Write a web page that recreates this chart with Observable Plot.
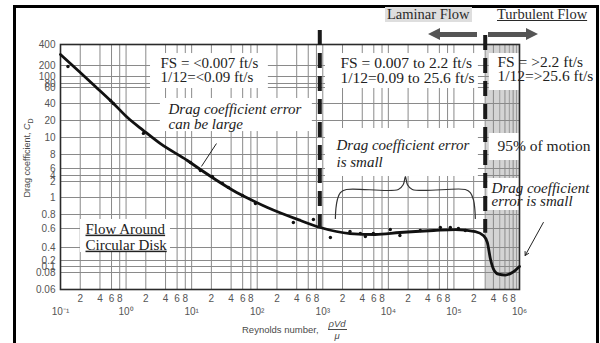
<!DOCTYPE html>
<html>
<head>
<meta charset="utf-8">
<script src="https://cdn.jsdelivr.net/npm/d3@7"></script>
<script src="https://cdn.jsdelivr.net/npm/@observablehq/plot@0.6"></script>
<style>
  body { margin: 0; background: #fff; }
  #wrap { position: relative; width: 600px; height: 343px; overflow: hidden; background: #fff; }
  #chart svg { position: absolute; left: 0; top: 0; }
  .ov { position: absolute; white-space: nowrap; }
  .serif { font-family: "Liberation Serif", "Times New Roman", serif; color: #2a2a2a; }
  .sans { font-family: "Liberation Sans", Arial, sans-serif; color: #4a4a4a; }
</style>
</head>
<body>
<div id="wrap">
  <div id="chart"></div>
  <div class="ov" style="left:13px;top:5px;width:586px;height:360px;box-sizing:border-box;border-top:3px solid #000;border-left:3px solid #000;border-right:3px solid #000;"></div>
  <div class="ov serif" style="left:385px;top:7px;font-size:14.5px;line-height:15px;background:#dedede;padding:0 2px;">Laminar Flow</div>
  <div class="ov serif" style="left:497px;top:7px;font-size:14.5px;line-height:15px;text-decoration:underline;">Turbulent Flow</div>
  <!-- header arrows -->
  <div class="ov" style="left:438px;top:32px;width:39px;height:5px;background:#555;"></div>
  <div class="ov" style="left:428px;top:28px;width:0;height:0;border-top:6.5px solid transparent;border-bottom:6.5px solid transparent;border-right:12px solid #555;"></div>
  <div class="ov" style="left:488px;top:32px;width:39px;height:5px;background:#555;"></div>
  <div class="ov" style="left:526px;top:28px;width:0;height:0;border-top:6.5px solid transparent;border-bottom:6.5px solid transparent;border-left:12px solid #555;"></div>
  <!-- axis titles -->
  <div class="ov sans" style="left:28px;top:158px;font-size:9px;transform:translate(-50%,-50%) rotate(-90deg);">Drag coefficient, <i>C</i><sub style="font-size:7px">D</sub></div>
  <div class="ov sans" style="left:242px;top:318px;font-size:9.5px;display:flex;align-items:center;">Reynolds number,<span style="display:inline-flex;flex-direction:column;align-items:center;margin-left:9px;font-style:italic;line-height:11px;"><span style="border-bottom:1px solid #4a4a4a;padding:0 1px;">ρVd</span><span>μ</span></span></div>
</div>
<script>
// ---- data ----
const reynolds = [0.1, 0.2, 0.34, 0.62, 1.05, 1.84, 3.3, 8.6, 13.6, 23, 43, 79, 143, 457, 916, 2600, 6300, 15000, 49000, 105000, 212000, 281000, 323000, 359000, 398000, 475000, 608000, 777000, 1000000];
const dragCoef = [305, 136, 65, 41.3, 23.5, 14.1, 9.3, 7.14, 5.71, 2.67, 1.44, 0.976, 0.882, 0.714, 0.614, 0.547, 0.537, 0.558, 0.579, 0.589, 0.568, 0.526, 0.453, 0.231, 0.093, 0.078, 0.077, 0.08, 0.1];
const sampleRe = [0.13, 0.58, 0.64, 1.84, 9.6, 13.6, 20.7, 29.5, 36.4, 59.4, 94, 356, 719, 1306, 2600, 3740, 4460, 5900, 10700, 15000, 30700, 62100, 88100, 117000, 149000];
const sampleCd = [191, 43.8, 40, 12.4, 6.86, 5.43, 3.67, 1.88, 1.63, 1.13, 0.93, 0.686, 0.729, 0.505, 0.568, 0.547, 0.516, 0.547, 0.589, 0.526, 0.579, 0.614, 0.614, 0.6, 0.579];
const yTicks = [400, 200, 100, 80, 60, 40, 20, 10, 8, 6, 4, 2, 1, 0.8, 0.6, 0.4, 0.2, 0.1, 0.08, 0.06];
const decades = [0.1, 1, 10, 100, 1e3, 1e4, 1e5, 1e6];
const decadeLabels = ["10⁻¹", "10⁰", "10¹", "10²", "10³", "10⁴", "10⁵", "10⁶"];
const minorMultipliers = [2, 4, 6, 8];
const minorLabels = ["2", "4", "6", "8"];
const transitionRe = [900, 300000]; // laminar / turbulent boundaries

// ---- derived tables ----
const curve = reynolds.map((re, i) => ({re, cd: dragCoef[i]}));
const samples = sampleRe.map((re, i) => ({re, cd: sampleCd[i]}));
const decadeTicks = decades.map((v, i) => ({v, label: decadeLabels[i]}));
const minorTicks = decades.slice(0, -1).flatMap(d => minorMultipliers.map((m, j) => ({v: d * m, label: minorLabels[j]})));
const gridX = [...decades, ...minorTicks.map(d => d.v)];

const serif = "Liberation Serif, Times New Roman, serif";
const ink = "#222";
const note = (text, dx, dy, o = {}) => Plot.text([text], {
  text: d => d, frameAnchor: "top-left", dx, dy, textAnchor: "start", lineAnchor: "middle",
  fontFamily: serif, fontSize: 15, fill: ink, lineHeight: 0.95, ...o
});

// white panels behind annotations (data coordinates)
const panels = [
  {x1: 2.36, x2: 148, y1: 58.75, y2: 314},
  {x1: 3.34, x2: 693, y1: 13.5, y2: 46.25},
  {x1: 1100, x2: 2.36e5, y1: 58.75, y2: 314},
  {x1: 1100, x2: 2.36e5, y1: 3.67, y2: 15.3},
  {x1: 3.47e5, x2: 1e6, y1: 56.25, y2: 314},
  {x1: 3.47e5, x2: 1e6, y1: 7.14, y2: 12.35},
  {x1: 3.3e5, x2: 1e6, y1: 0.847, y2: 3},
  {x1: 0.202, x2: 4.75, y1: 0.323, y2: 0.729}
];
const brace = [
  [1556, 0.743], [1585, 0.871], [1671, 0.976], [1855, 1.31], [2290, 1.5], [14200, 1.5],
  [16900, 1.81], [18200, 3.67], [19500, 1.81], [23200, 1.5], [149000, 1.5], [178000, 1.31],
  [198000, 0.976], [208000, 0.871], [212000, 0.743]
].map(([re, cd]) => ({re, cd}));

const chart = Plot.plot({
  width: 600,
  height: 343,
  marginLeft: 60,
  marginRight: 81,
  marginTop: 44,
  marginBottom: 54,
  style: {background: "transparent", fontFamily: "Liberation Sans, Arial, sans-serif", overflow: "visible"},
  x: {type: "log", domain: [0.1, 1e6], axis: null},
  y: {type: "linear", domain: yTicks,
      range: [44, 65, 76, 83, 87, 103, 120, 137, 154, 168, 175, 181, 197, 214, 228, 247, 260, 266, 272, 289],
      axis: null},
  marks: [
    // turbulent region shading
    Plot.rect([{x1: transitionRe[1], x2: 1e6, y1: 0.06, y2: 400}], {x1: "x1", x2: "x2", y1: "y1", y2: "y2", fill: "#d4d4d4"}),
    // grid
    Plot.ruleX(gridX, {stroke: "#8a8a8a", strokeWidth: 1}),
    Plot.ruleX([3e5, 5e5, 7e5, 9e5], {stroke: "#9a9a9a", strokeWidth: 1}),
    Plot.ruleY(yTicks, {stroke: "#8a8a8a", strokeWidth: 1}),
    // panels behind annotations
    Plot.rect(panels, {x1: "x1", x2: "x2", y1: "y1", y2: "y2", fill: "white"}),
    Plot.frame({stroke: "#2a2a2a", strokeWidth: 1.6}),
    // data
    Plot.line(curve, {x: "re", y: "cd", stroke: "#111", strokeWidth: 2.8, curve: "monotone-x"}),
    Plot.dot(samples, {x: "re", y: "cd", r: 1.7, fill: "#111"}),
    // transition lines
    Plot.ruleX([{re: transitionRe[0], top: 533, bottom: 0.6}, {re: transitionRe[1], top: 486, bottom: 0.55}],
      {x: "re", y1: "top", y2: "bottom", stroke: "#1a1a1a", strokeWidth: 4, strokeDasharray: "15,8"}),
    // annotation geometry
    Plot.line(brace, {x: "re", y: "cd", stroke: "#333", strokeWidth: 1.2, curve: "catmull-rom"}),
    Plot.link([{x1: 23.9, y1: 9.29, x2: 14.1, y2: 6.29}], {x1: "x1", y1: "y1", x2: "x2", y2: "y2", stroke: "#222", strokeWidth: 1}),
    Plot.arrow([{x1: 2.31e6, y1: 0.686, x2: 1.22e6, y2: 0.277}], {x1: "x1", y1: "y1", x2: "x2", y2: "y2", stroke: "#222", strokeWidth: 1, headLength: 6}),
    // y tick labels
    Plot.text(yTicks, {y: d => d, text: d => String(d), frameAnchor: "left", dx: -5, textAnchor: "end", lineAnchor: "middle", fontSize: 10, fill: "#555"}),
    // x tick labels
    Plot.text(minorTicks, {x: "v", text: "label", frameAnchor: "bottom", dy: 9, lineAnchor: "middle", fontSize: 10, fill: "#555"}),
    Plot.text(decadeTicks, {x: "v", text: "label", frameAnchor: "bottom", dy: 22, lineAnchor: "middle", fontSize: 10, fill: "#555"}),
    // annotations
    note("FS = <0.007 ft/s\n1/12=<0.09 ft/s", 100, 26),
    note("Drag coefficient error\ncan be large", 108, 72.5, {fontStyle: "italic", lineHeight: 1.0}),
    note("FS = 0.007 to 2.2 ft/s\n1/12=0.09 to 25.6 ft/s", 280, 26.5, {fontSize: 15.5, lineHeight: 0.95}),
    note("Drag coefficient error\nis small", 276, 108.5, {fontStyle: "italic", lineHeight: 1.1}),
    note("FS = >2.2 ft/s\n1/12=>25.6 ft/s", 437, 25, {fontSize: 15.5, lineHeight: 0.9}),
    note("95% of motion", 437, 102, {fontSize: 15.5}),
    note("Drag coefficient\nerror is small", 431, 151, {fontStyle: "italic", lineHeight: 0.85}),
    note("Flow Around\nCircular Disk", 25, 192, {lineHeight: 1.07})
  ]
});

document.getElementById("chart").appendChild(chart);
d3.select(chart).selectAll("text")
  .filter(function () { return this.textContent.includes("Flow Around"); })
  .style("text-decoration", "underline");
</script>
</body>
</html>
